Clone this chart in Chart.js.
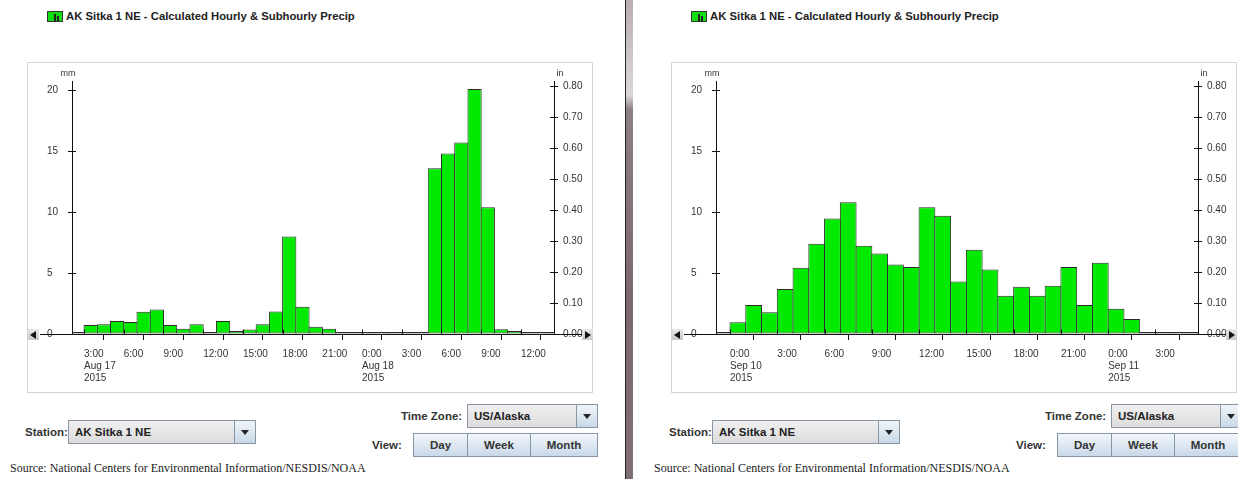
<!DOCTYPE html>
<html lang="en">
<head>
<meta charset="UTF-8" />
<title>AK Sitka 1 NE - Calculated Hourly &amp; Subhourly Precip</title>
<script src="https://cdn.jsdelivr.net/npm/chart.js"></script>
<style>
  html, body { margin: 0; padding: 0; background: #fff; }
  body { width: 1238px; height: 479px; overflow: hidden; position: relative;
         font-family: "Liberation Sans", Arial, sans-serif; color: #333; }
  .panel { position: absolute; top: 0; width: 644px; height: 479px; }
  .title { position: absolute; left: 66px; top: 10px; font-size: 11.3px; font-weight: bold; color: #222; white-space: nowrap; }
  .icon { position: absolute; left: 47px; top: 11px; width: 14px; height: 9px; background: #11dd11; border: 1px solid #333; }
  .icon span { position: absolute; left: 6px; top: 2px; width: 2px; height: 7px; background: #222; }
  .icon span + span { left: 9px; top: 4px; height: 5px; }
  .frame { position: absolute; left: 27px; top: 62px; width: 566px; height: 331px; box-sizing: border-box; border: 1px solid #d4d4d4; }
  canvas { position: absolute; left: 27px; top: 62px; }
  .nav { position: absolute; width: 11px; height: 11px; top: 329px; background: linear-gradient(#e8e8e8, #c8c8c8); }
  .nav::after { content: ''; position: absolute; top: 2px; border-top: 4px solid transparent; border-bottom: 4px solid transparent; }
  .nav.l::after { left: 2px; border-right: 6px solid #111; }
  .nav.r::after { left: 3px; border-left: 6px solid #111; }
  .lbl { position: absolute; font-size: 11.5px; font-weight: bold; color: #333; line-height: 14px; white-space: nowrap; }
  .combo { position: absolute; height: 24px; box-sizing: border-box; border: 1px solid #8796a5;
           background: linear-gradient(#f0f0f0, #dcdcdc); font-size: 11.5px; font-weight: bold; color: #222;
           line-height: 22px; padding-left: 6px; white-space: nowrap; }
  .combo .arr { position: absolute; right: 0; top: 0; width: 20px; height: 22px; border-left: 1px solid #8796a5;
                background: linear-gradient(#f1f5f9, #c9d8e7); }
  .combo .arr::after { content: ''; position: absolute; left: 6px; top: 9px; border-left: 4px solid transparent;
                       border-right: 4px solid transparent; border-top: 5px solid #222; }
  .btn { position: absolute; height: 24px; box-sizing: border-box; border: 1px solid #8796a5;
         background: linear-gradient(#f3f7fb, #c8d8e8); text-align: center; line-height: 22px;
         font-size: 11.5px; font-weight: bold; color: #333; }
  .src { position: absolute; left: 10px; top: 461px; font-family: "Liberation Serif", "Times New Roman", serif; font-size: 12px; color: #222; white-space: nowrap; }
  .divider { position: absolute; left: 625px; top: 0; width: 7px; height: 479px; border-left: 1px solid #222;
             background: linear-gradient(#b9aeb2 0px, #ddd6d8 95px, #8e7f84 110px, #7a696e 300px, #806f74 479px); }
</style>
</head>
<body>

<div id="root"></div>
<div class="divider"></div>

<script>
  // hourly precip (mm), bar covers [hour, hour+1), hours counted from the first day's midnight
  const augHours = [2, 3, 4, 5, 6, 7, 8, 9, 10, 11, 12, 13, 14, 15, 16, 17, 18, 19, 20, 21,
                    22, 23, 24, 25, 26, 27, 28, 29, 30, 31, 32, 33, 34, 35, 36, 37, 38];
  const augMm = [0, 0.73, 0.8, 1.06, 0.98, 1.83, 2.0, 0.73, 0.44, 0.79, 0, 1.06, 0.24, 0.37, 0.8, 1.85, 8.0, 2.24, 0.6, 0.44,
                 0, 0, 0, 0, 0, 0, 0, 13.6, 14.8, 15.7, 20.1, 10.4, 0.38, 0.25, 0, 0, 0];
  const augTicks = [3, 6, 9, 12, 15, 18, 21, 24, 27, 30, 33, 36];
  const augTickLabels = [['3:00', 'Aug 17', '2015'], '6:00', '9:00', '12:00', '15:00', '18:00', '21:00',
                         ['0:00', 'Aug 18', '2015'], '3:00', '6:00', '9:00', '12:00'];

  const sepHours = [-1, 0, 1, 2, 3, 4, 5, 6, 7, 8, 9, 10, 11, 12, 13, 14, 15, 16, 17, 18, 19, 20,
                    21, 22, 23, 24, 25, 26, 27, 28, 29];
  const sepMm = [0, 0.96, 2.38, 1.78, 3.69, 5.44, 7.4, 9.48, 10.8, 7.24, 6.61, 5.71, 5.49, 10.4, 9.7, 4.3, 6.9, 5.3, 3.14, 3.87, 3.14, 3.95,
                 5.5, 2.38, 5.85, 2.07, 1.23, 0, 0, 0, 0];
  const sepTicks = [0, 3, 6, 9, 12, 15, 18, 21, 24, 27];
  const sepTickLabels = [['0:00', 'Sep 10', '2015'], '3:00', '6:00', '9:00', '12:00', '15:00', '18:00', '21:00',
                         ['0:00', 'Sep 11', '2015'], '3:00'];

  const mmTicks = [0, 5, 10, 15, 20];
  const inTicks = [0, 0.1, 0.2, 0.3, 0.4, 0.5, 0.6, 0.7, 0.8];
  const MM_MAX = 20.75;

  const BAR_FILL = '#00ea00';
  const BAR_EDGE = '#2a2a2a';
  const AXIS = '#111';
  const PLOT_W = 482;

  Chart.defaults.font.family = '"Liberation Sans", Arial, sans-serif';
  Chart.defaults.font.size = 10;
  Chart.defaults.color = '#333';

  // tick marks that cross the axes + baseline running out to the scroll arrows
  const crossTicks = {
    id: 'crossTicks',
    afterDatasetsDraw(chart) {
      const { ctx, chartArea: a, scales } = chart;
      const by = Math.round(a.bottom) + 0.5;
      ctx.save();
      ctx.strokeStyle = AXIS;
      ctx.lineWidth = 1;
      ctx.beginPath();
      scales.x.ticks.forEach(t => {
        const px = Math.round(scales.x.getPixelForValue(t.value)) + 0.5;
        ctx.moveTo(px, by); ctx.lineTo(px, by - 5);
      });
      scales.yMm.ticks.forEach(t => {
        const py = Math.round(scales.yMm.getPixelForValue(t.value)) + 0.5;
        ctx.moveTo(a.left, py); ctx.lineTo(a.left + 4, py);
      });
      scales.yIn.ticks.forEach(t => {
        const py = Math.round(scales.yIn.getPixelForValue(t.value)) + 0.5;
        ctx.moveTo(a.right, py); ctx.lineTo(a.right - 4, py);
      });
      ctx.moveTo(13, by); ctx.lineTo(a.left, by);
      ctx.moveTo(a.right, by); ctx.lineTo(555, by);
      ctx.stroke();
      ctx.fillStyle = '#333';
      ctx.font = '9px "Liberation Sans", Arial, sans-serif';
      ctx.textAlign = 'center';
      ctx.textBaseline = 'middle';
      ctx.fillText('mm', a.left - 4, a.top - 7);
      ctx.fillText('in', a.right + 6, a.top - 7);
      ctx.restore();
    }
  };

  function drawChart(canvas, hours, mm, ticks, tickLabels, xMin, xMax) {
    const hourPx = PLOT_W / (xMax - xMin);
    return new Chart(canvas, {
      type: 'bar',
      data: {
        datasets: [{
          data: hours.map((h, i) => ({ x: h + 0.5, y: mm[i] })),
          backgroundColor: BAR_FILL,
          borderColor: BAR_EDGE,
          borderWidth: 1,
          borderSkipped: false,
          categoryPercentage: 1,
          barPercentage: 1 + 1 / hourPx,
          minBarLength: 2,
          yAxisID: 'yMm'
        }]
      },
      options: {
        responsive: false,
        animation: false,
        events: [],
        layout: { padding: { left: 20, top: 19, right: 0, bottom: 0 } },
        plugins: { legend: { display: false }, tooltip: { enabled: false } },
        scales: {
          x: {
            type: 'linear', min: xMin, max: xMax, bounds: 'data', offset: false,
            afterBuildTicks: s => { s.ticks = ticks.map(v => ({ value: v })); },
            afterFit: s => { s.height = 59; },
            grid: { drawOnChartArea: false, tickLength: 6, color: AXIS },
            border: { color: AXIS },
            ticks: { autoSkip: false, maxRotation: 0, align: 'start', padding: 8,
                     font: { size: 10, lineHeight: 1.2 },
                     callback: (v, i) => tickLabels[i] }
          },
          yMm: {
            position: 'left', min: 0, max: MM_MAX, bounds: 'data',
            afterBuildTicks: s => { s.ticks = mmTicks.map(v => ({ value: v })); },
            afterFit: s => { s.width = 25; },
            grid: { drawOnChartArea: false, tickLength: 4, color: AXIS },
            border: { color: AXIS },
            ticks: { crossAlign: 'far', padding: 0 }
          },
          yIn: {
            position: 'right', min: 0, max: MM_MAX / 25.4, bounds: 'data',
            afterBuildTicks: s => { s.ticks = inTicks.map(v => ({ value: v })); },
            afterFit: s => { s.width = 39; },
            grid: { drawOnChartArea: false, tickLength: 4, color: AXIS },
            border: { color: AXIS },
            ticks: { padding: 5, callback: v => v.toFixed(2) }
          }
        }
      },
      plugins: [crossTicks]
    });
  }

  function makePanel(left, hours, mm, ticks, tickLabels, xMin, xMax) {
    const p = document.createElement('div');
    p.className = 'panel';
    p.style.left = left + 'px';
    p.innerHTML = `
      <div class="icon"><span></span><span></span></div>
      <div class="title">AK Sitka 1 NE - Calculated Hourly &amp; Subhourly Precip</div>
      <div class="frame"></div>
      <canvas width="566" height="331"></canvas>
      <div class="nav l" style="left:28px"></div>
      <div class="nav r" style="left:582px"></div>
      <div class="lbl" style="left:25px; top:425px">Station:</div>
      <div class="combo" style="left:68px; top:420px; width:188px">AK Sitka 1 NE<div class="arr"></div></div>
      <div class="lbl" style="left:401px; top:409px">Time Zone:</div>
      <div class="combo" style="left:467px; top:404px; width:131px">US/Alaska<div class="arr"></div></div>
      <div class="lbl" style="left:372px; top:438px">View:</div>
      <div class="btn" style="left:413px; top:433px; width:55px">Day</div>
      <div class="btn" style="left:467px; top:433px; width:64px">Week</div>
      <div class="btn" style="left:530px; top:433px; width:68px">Month</div>
      <div class="src">Source: National Centers for Environmental Information/NESDIS/NOAA</div>
    `;
    document.getElementById('root').appendChild(p);
    drawChart(p.querySelector('canvas'), hours, mm, ticks, tickLabels, xMin, xMax);
  }

  makePanel(0, augHours, augMm, augTicks, augTickLabels, 2.09, 38.5);
  makePanel(644, sepHours, sepMm, sepTicks, sepTickLabels, -0.89, 29.7);
</script>
</body>
</html>
